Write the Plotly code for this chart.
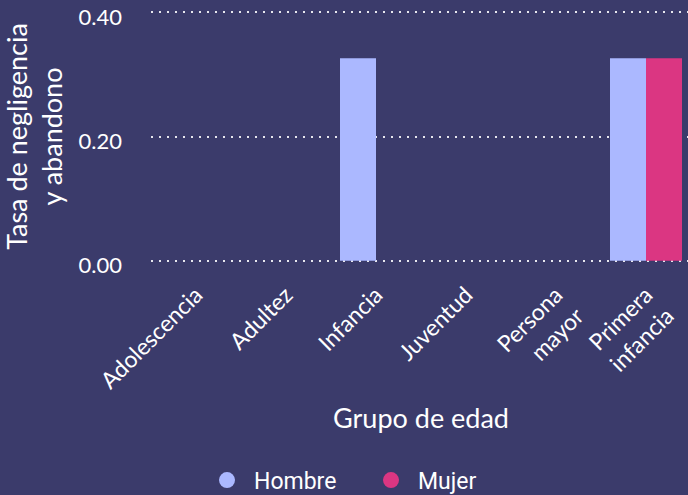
import plotly.graph_objects as go

categorias = ["Adolescencia", "Adultez", "Infancia", "Juventud", "Persona<br>mayor", "Primera<br>infancia"]
hombre = [None, None, 0.326, None, None, 0.326]
mujer = [None, None, None, None, None, 0.326]
ticks_y = [0.0, 0.2, 0.4]
ticks_y_text = ["0.00", "0.20", "0.40"]

bg = "#3B3B6B"
c_h = "#ABB8FF"
c_m = "#DB3682"
font_main = "Lato"
grid_c = "rgba(240,240,245,0.95)"

fig = go.Figure()
fig.add_trace(go.Bar(x=categorias, y=hombre, name="Hombre", marker=dict(color=c_h, line=dict(width=0)), showlegend=False))
fig.add_trace(go.Bar(x=categorias, y=mujer, name="Mujer", marker=dict(color=c_m, line=dict(width=0)), showlegend=False))
fig.add_trace(go.Scatter(x=[None], y=[None], mode="markers", name="Hombre",
                         marker=dict(symbol="circle", size=20, color=c_h)))
fig.add_trace(go.Scatter(x=[None], y=[None], mode="markers", name="Mujer",
                         marker=dict(symbol="circle", size=20, color=c_m)))

fig.update_layout(
    width=700, height=495,
    margin=dict(l=151, r=9, t=11, b=233, autoexpand=False),
    paper_bgcolor=bg, plot_bgcolor=bg,
    barmode="group", bargap=0.2, bargroupgap=0,
    font=dict(family=font_main, color="#FFFFFF", size=17),
    legend=dict(orientation="h", xref="container", yref="container",
                x=0.52, y=0.03, xanchor="center", yanchor="middle",
                font=dict(family="Roboto", size=23, color="#FFFFFF"),
                itemsizing="trace", itemwidth=44, entrywidth=105, traceorder="normal"),
)
fig.update_xaxes(
    tickangle=-45, tickfont=dict(size=23, color="#FFFFFF"),
    title=dict(text="Grupo de edad", font=dict(size=27, color="#FFFFFF"), standoff=16),
    showgrid=False, showline=False, ticks="", ticklabelstandoff=14, automargin=False,
)
fig.update_yaxes(
    range=[-0.002, 0.402], tickvals=ticks_y, ticktext=ticks_y_text,
    tickfont=dict(size=22, color="#FFFFFF"),
    title=dict(text="Tasa de negligencia<br>y abandono", font=dict(size=27, color="#FFFFFF"), standoff=11),
    showgrid=True, gridcolor=grid_c, griddash="2px,6px", gridwidth=2,
    zeroline=False, showline=False, ticks="", ticklabelstandoff=28, ticklabelshift=5,
    automargin=False,
)
fig.write_html("out.html")
